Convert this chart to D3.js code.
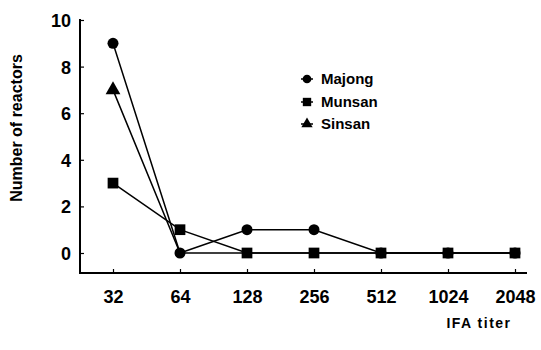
<!DOCTYPE html>
<html>
<head>
<meta charset="utf-8">
<script src="https://cdn.jsdelivr.net/npm/d3@7"></script>
<style>
  body { margin: 0; background: #fff; }
  svg text { font-family: "Liberation Sans", Arial, sans-serif; font-weight: bold; fill: #000; }
</style>
</head>
<body>
<script>
'use strict';

// IFA titer categories and number of reactors per site
const titers = ["32", "64", "128", "256", "512", "1024", "2048"];
const majong = [9, 0, 1, 1, 0, 0, 0];
const munsan = [3, 1, 0, 0, 0, 0, 0];
const sinsan = [7, 0, 0, 0, 0, 0, 0];
const yTicks = [0, 2, 4, 6, 8, 10];
const legendNames = ["Majong", "Munsan", "Sinsan"];

(function() {
  let svg = d3.select('body').append('svg')
    .attr('width', 541)
    .attr('height', 350);

  let x = d3.scalePoint().domain(titers).range([113, 515]);
  let y = d3.scaleLinear().domain([0, 10]).range([253, 20]);

  // axis lines (drawn by hand so they meet at the corner)
  svg.append('line')
    .attr('x1', 80).attr('x2', 80).attr('y1', 19).attr('y2', 273.5)
    .attr('stroke', '#000').attr('stroke-width', 2);
  svg.append('line')
    .attr('x1', 79).attr('x2', 527).attr('y1', 273).attr('y2', 273)
    .attr('stroke', '#000').attr('stroke-width', 2);

  // y axis, ticks point inward
  let yAxis = svg.append('g')
    .attr('transform', 'translate(80,0)')
    .call(d3.axisLeft(y).tickValues(yTicks).tickSize(-4).tickPadding(9));
  yAxis.select('.domain').remove();
  yAxis.selectAll('text').style('font-size', '18px').attr('dy', '0.36em');

  // x axis, ticks point up
  let xAxis = svg.append('g')
    .attr('transform', 'translate(0,273)')
    .call(d3.axisBottom(x).tickSize(-4).tickPadding(17));
  xAxis.select('.domain').remove();
  xAxis.selectAll('text').style('font-size', '18px');
  svg.selectAll('.tick line').attr('stroke', '#000').attr('stroke-width', 1.2);

  // labels
  svg.append('text')
    .attr('transform', 'translate(22,128)rotate(-90)')
    .attr('text-anchor', 'middle')
    .style('font-size', '16px')
    .text('Number of reactors');

  svg.append('text')
    .attr('x', 479)
    .attr('y', 328)
    .attr('text-anchor', 'middle')
    .style('font-size', '14px')
    .style('letter-spacing', '1.5px')
    .text('IFA titer');

  let line = d3.line()
    .x((d, i) => x(titers[i]))
    .y(d => y(d));

  let series = [sinsan, majong, munsan];
  series.forEach(s => {
    svg.append('path')
      .datum(s)
      .attr('fill', 'none')
      .attr('stroke', '#000')
      .attr('stroke-width', 1.5)
      .attr('d', line);
  });

  let tri = d3.symbol().type(d3.symbolTriangle).size(95);
  let sq = d3.symbol().type(d3.symbolSquare).size(115);

  // triangles only where no other marker sits on the same point
  let triPoints = sinsan
    .map((d, i) => ({v: d, i: i}))
    .filter(p => p.v != majong[p.i] && p.v != munsan[p.i]);

  svg.selectAll('.tri')
    .data(triPoints).enter()
    .append('path')
      .attr('d', tri)
      .attr('transform', p => 'translate(' + x(titers[p.i]) + ',' + y(p.v) + ')')
      .attr('fill', '#000');

  svg.selectAll('.dot')
    .data(majong).enter()
    .append('circle')
      .attr('cx', (d, i) => x(titers[i]))
      .attr('cy', d => y(d))
      .attr('r', 5.5)
      .attr('fill', '#000');

  svg.selectAll('.sq')
    .data(munsan).enter()
    .append('path')
      .attr('d', sq)
      .attr('transform', (d, i) => 'translate(' + x(titers[i]) + ',' + y(d) + ')')
      .attr('fill', '#000');

  // legend
  let legendY = [79, 102, 124];
  let shapes = [d3.symbolCircle, d3.symbolSquare, d3.symbolTriangle];
  let sizes = [60, 70, 55];
  legendNames.forEach((name, i) => {
    let g = svg.append('g').attr('transform', 'translate(307,' + legendY[i] + ')');
    g.append('line')
      .attr('x1', -6).attr('x2', 6)
      .attr('stroke', '#000').attr('stroke-width', 1.5);
    g.append('path')
      .attr('d', d3.symbol().type(shapes[i]).size(sizes[i]))
      .attr('fill', '#000');
    g.append('text')
      .attr('x', 14)
      .attr('dy', '0.36em')
      .style('font-size', '15px')
      .text(name);
  });
})();
</script>
</body>
</html>
